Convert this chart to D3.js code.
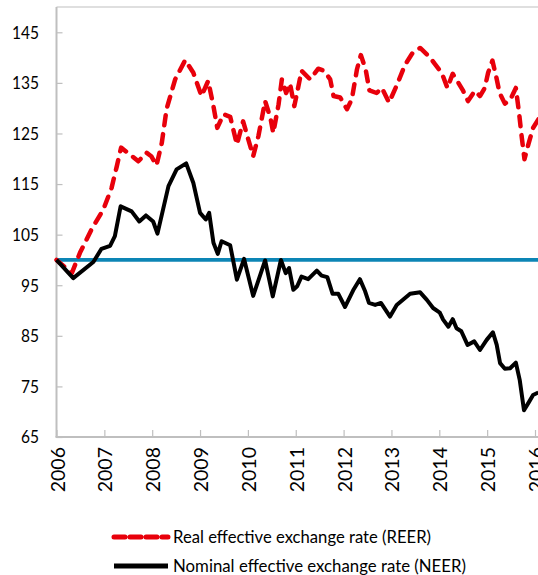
<!DOCTYPE html>
<html lang="en">
<head>
<meta charset="UTF-8">
<title>REER and NEER</title>
<script src="https://d3js.org/d3.v7.min.js"></script>
<style>
  body { margin: 0; padding: 0; background: #fff; }
  svg { display: block; }
  text { font-family: Lato, "Open Sans", "Liberation Sans", sans-serif; fill: #000; }
</style>
</head>
<body>
<div id="chart"></div>
<script>
// tick labels
const xTicks = [2006, 2007, 2008, 2009, 2010, 2011, 2012, 2013, 2014, 2015, 2016];
const yTicks = [65, 75, 85, 95, 105, 115, 125, 135, 145];
const baseline = 100;

// real effective exchange rate (decimal year, index)
const reerT = [2006.0, 2006.32, 2006.49, 2006.73, 2006.98, 2007.15, 2007.26, 2007.35, 2007.54, 2007.71,
  2007.88, 2007.98, 2008.09, 2008.2, 2008.3, 2008.48, 2008.69, 2008.86, 2009.03, 2009.17,
  2009.28, 2009.36, 2009.49, 2009.63, 2009.77, 2009.9, 2010.0, 2010.11, 2010.22, 2010.36,
  2010.47, 2010.53, 2010.64, 2010.71, 2010.8, 2010.88, 2010.97, 2011.07, 2011.12, 2011.3,
  2011.47, 2011.59, 2011.72, 2011.79, 2011.93, 2012.07, 2012.17, 2012.28, 2012.36, 2012.46,
  2012.54, 2012.69, 2012.8, 2012.95, 2013.11, 2013.28, 2013.44, 2013.6, 2013.81, 2013.91,
  2014.05, 2014.17, 2014.28, 2014.4, 2014.5, 2014.6, 2014.74, 2014.85, 2014.95, 2015.02,
  2015.11, 2015.19, 2015.26, 2015.37, 2015.48, 2015.6, 2015.67, 2015.72, 2015.78, 2015.86,
  2015.96, 2016.07];
const reerV = [100, 97.4, 101.4, 106, 110, 114.2, 118.5, 122.2, 120.8, 119.5,
  121.2, 120.5, 118.7, 123.1, 129.8, 135.7, 139.5, 137.0, 132.4, 135.4,
  130.4, 126.1, 128.8, 128.3, 122.8, 127.4, 124.1, 120.5, 124.5, 131.4,
  128.1, 125.1, 130.7, 135.7, 133.0, 134.9, 130.4, 135.0, 137.4, 135.7,
  137.8, 137.4, 135.7, 132.4, 132.1, 129.8, 131.7, 137.7, 140.5, 137.7,
  133.5, 133.0, 134.0, 131.1, 134.5, 138.5, 140.9, 141.9, 140.0, 138.7,
  137.0, 134.0, 136.8, 135.0, 133.4, 131.4, 133.4, 132.4, 134.0, 137.0,
  139.4, 136.2, 133.0, 130.9, 131.6, 134.0, 128.8, 124.5, 119.9, 122.8,
  126.1, 127.8];

// nominal effective exchange rate (decimal year, index)
const neerT = [2006.0, 2006.35, 2006.77, 2006.94, 2007.12, 2007.22, 2007.34, 2007.57, 2007.73, 2007.87,
  2008.02, 2008.11, 2008.34, 2008.51, 2008.71, 2008.86, 2009.0, 2009.12, 2009.19, 2009.28,
  2009.37, 2009.45, 2009.63, 2009.77, 2009.92, 2010.11, 2010.36, 2010.52, 2010.69, 2010.79,
  2010.86, 2010.95, 2011.03, 2011.12, 2011.26, 2011.44, 2011.54, 2011.66, 2011.77, 2011.89,
  2012.03, 2012.2, 2012.34, 2012.45, 2012.53, 2012.66, 2012.78, 2012.97, 2013.11, 2013.39,
  2013.6, 2013.74, 2013.87, 2014.01, 2014.08, 2014.19, 2014.28, 2014.36, 2014.46, 2014.59,
  2014.73, 2014.85, 2014.99, 2015.12, 2015.2, 2015.27, 2015.37, 2015.48, 2015.6, 2015.68,
  2015.77, 2015.86, 2015.96, 2016.07];
const neerV = [100, 96.4, 99.6, 102.2, 102.8, 104.7, 110.6, 109.6, 107.6, 108.8,
  107.6, 105.2, 114.6, 117.9, 119.1, 115.2, 109.3, 108.0, 109.3, 103.4,
  101.2, 103.7, 102.9, 96.1, 100.2, 92.9, 99.9, 92.8, 100.0, 97.4,
  98.4, 94.1, 94.8, 96.7, 96.2, 97.9, 96.9, 96.6, 93.3, 93.3,
  90.7, 94.0, 96.2, 93.8, 91.5, 91.1, 91.5, 88.8, 91.1, 93.3,
  93.6, 92.1, 90.5, 89.6, 88.2, 86.8, 88.3, 86.5, 85.9, 83.2,
  83.9, 82.2, 84.2, 85.7, 83.2, 79.6, 78.5, 78.6, 79.7, 76.3,
  70.3, 71.7, 73.3, 73.8];

const legendLabels = ["Real effective exchange rate (REER)", "Nominal effective exchange rate (NEER)"];

const width = 538, height = 575;
const svg = d3.select("#chart").append("svg")
  .attr("width", width)
  .attr("height", height);

const x = d3.scaleLinear().domain([2006, 2016]).range([56.5, 535]);
const y = d3.scaleLinear().domain([65, 150]).range([437, 7]);
const xRight = 560;

const grey = "#bfbfbf";

// frame: top border
svg.append("line")
  .attr("x1", x(2006)).attr("x2", xRight)
  .attr("y1", y(150)).attr("y2", y(150))
  .attr("stroke", grey).attr("stroke-width", 1.2);

// y axis
const yAxis = svg.append("g")
  .attr("transform", `translate(${x(2006)},0)`)
  .call(d3.axisRight(y).tickValues(yTicks).tickSize(6).tickFormat(""));
yAxis.select(".domain").remove();
yAxis.selectAll(".tick line").attr("stroke", grey).attr("stroke-width", 1.2);
svg.append("line")
  .attr("x1", x(2006)).attr("x2", x(2006))
  .attr("y1", y(150)).attr("y2", y(65))
  .attr("stroke", grey).attr("stroke-width", 2);

svg.append("g").selectAll("text")
  .data(yTicks)
  .join("text")
  .attr("x", 39)
  .attr("y", d => y(d))
  .attr("dy", "0.36em")
  .attr("text-anchor", "end")
  .style("font-size", "17.5px")
  .text(d => d)
  .attr("textLength", d => String(d).length * 9)
  .attr("lengthAdjust", "spacingAndGlyphs");

// x axis
const xAxis = svg.append("g")
  .attr("transform", `translate(0,${y(65)})`)
  .call(d3.axisTop(x).tickValues(xTicks).tickSize(7).tickFormat(""));
xAxis.select(".domain").remove();
xAxis.selectAll(".tick line").attr("stroke", grey).attr("stroke-width", 1.2);
svg.append("line")
  .attr("x1", x(2006) - 1).attr("x2", xRight)
  .attr("y1", y(65)).attr("y2", y(65))
  .attr("stroke", grey).attr("stroke-width", 2);

svg.append("g").selectAll("text")
  .data(xTicks)
  .join("text")
  .attr("transform", d => `translate(${x(d) + 1},447) rotate(-90)`)
  .attr("dy", "0.36em")
  .attr("text-anchor", "end")
  .style("font-size", "19.5px")
  .text(d => d);

// 100 reference line
svg.append("line")
  .attr("x1", x(2006)).attr("x2", xRight)
  .attr("y1", y(baseline)).attr("y2", y(baseline))
  .attr("stroke", "#0c85b5").attr("stroke-width", 3.8);

const line = d3.line()
  .x(d => x(d[0]))
  .y(d => y(d[1]));

const reer = reerT.map((t, i) => [t, reerV[i]]);
const neer = neerT.map((t, i) => [t, neerV[i]]);

svg.append("path")
  .datum(reer)
  .attr("d", line)
  .attr("fill", "none")
  .attr("stroke", "#e8000b")
  .attr("stroke-width", 4.5)
  .attr("stroke-dasharray", "10,9")
  .attr("stroke-linecap", "round")
  .attr("stroke-linejoin", "round");

svg.append("path")
  .datum(neer)
  .attr("d", line)
  .attr("fill", "none")
  .attr("stroke", "#000")
  .attr("stroke-width", 4)
  .attr("stroke-linejoin", "round");

// legend
const legend = svg.append("g");
const rows = [
  { label: legendLabels[0], color: "#e8000b", dash: "11,5", y: 537, w: 258 },
  { label: legendLabels[1], color: "#000", dash: null, y: 566, w: 293 }
];
rows.forEach(r => {
  legend.append("line")
    .attr("x1", 114).attr("x2", 168)
    .attr("y1", r.y).attr("y2", r.y)
    .attr("stroke", r.color)
    .attr("stroke-width", 5)
    .attr("stroke-dasharray", r.dash)
    .attr("stroke-linecap", r.dash ? "round" : "butt");
  legend.append("text")
    .attr("x", 173)
    .attr("y", r.y)
    .attr("dy", "0.33em")
    .style("font-size", "17.5px")
    .attr("textLength", r.w)
    .attr("lengthAdjust", "spacingAndGlyphs")
    .text(r.label);
});
</script>
</body>
</html>
